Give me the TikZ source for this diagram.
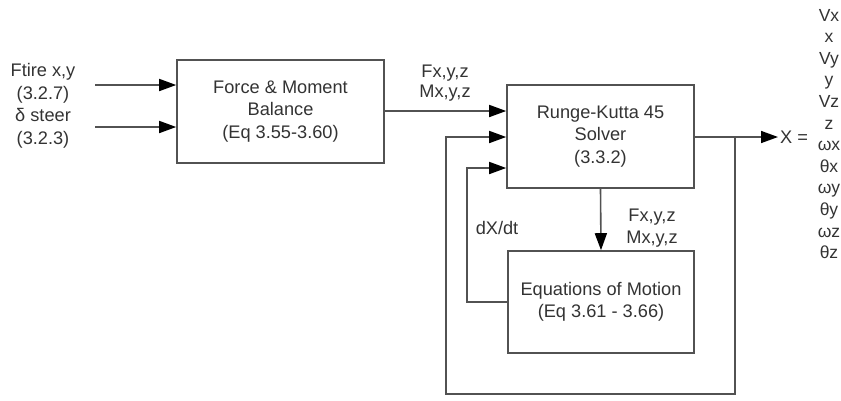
\documentclass[tikz,border=0pt]{standalone}
\usepackage{fontspec}
\setmainfont{Liberation Sans}
\usetikzlibrary{arrows.meta}
\begin{document}
\begin{tikzpicture}[x=1pt,y=-1pt,
  line/.style={draw=black!68, line width=1.6pt},
  arr/.style={line, -{Triangle[length=17pt,width=12pt,color=black]}},
  blk/.style={draw=black!68, line width=1.6pt, rectangle, inner sep=0pt, align=center,
     font=\fontsize{18.2}{22.5}\selectfont, text=black!80},
  lbl/.style={align=center, inner sep=0pt, font=\fontsize{18.2}{21.5}\selectfont, text=black!80}]
\useasboundingbox (0,0) rectangle (841,400);
% blocks
\node[blk, minimum width=207pt, minimum height=103pt] (fm) at (280.5,111.5)
  {Force \& Moment\\Balance\\(Eq 3.55-3.60)};
\node[blk, minimum width=187pt, minimum height=103pt] (rk) at (600.5,136.5)
  {Runge-Kutta 45\\Solver\\(3.3.2)};
\node[blk, minimum width=186pt, minimum height=102pt] (eom) at (601,302)
  {Equations of Motion\\(Eq 3.61 - 3.66)};
% input labels
\node[lbl, font=\fontsize{18.2}{22.5}\selectfont] (inl) at (43,106) {Ftire x,y\\(3.2.7)\\δ steer\\(3.2.3)};
\coordinate (in1) at (95,85);
\coordinate (in2) at (95,127);
\draw[arr] (in1) -- (in1 -| fm.west);
\draw[arr] (in2) -- (in2 -| fm.west);
% fm -> rk
\coordinate (fmo) at (384,111);
\draw[arr] (fmo) -- (fmo -| rk.west);
\node[lbl, font=\fontsize{18.2}{20}\selectfont] (fml) at (445,83) {Fx,y,z\\Mx,y,z};
% rk -> eom
\draw[arr] (rk.south) -- (eom.north);
\node[lbl] (rel) at (652,228) {Fx,y,z\\Mx,y,z};
% output
\coordinate (rko) at (694,137);
\coordinate (tap) at (735,137);
\coordinate (outp) at (778,137);
\draw[arr] (rko) -- (outp);
\node[lbl, anchor=west] (xeq) at (780,137) {X =};
\node[lbl, font=\fontsize{17.5}{21.6}\selectfont] (xlist) at (829,134)
  {Vx\\x\\Vy\\y\\Vz\\z\\ωx\\θx\\ωy\\θy\\ωz\\θz};
% outer loop
\coordinate (ob1) at (735,394);
\coordinate (ob2) at (446,394);
\coordinate (ob3) at (446,137);
\draw[arr] (tap) -- (ob1) -- (ob2) -- (ob3) -- (ob3 -| rk.west);
% inner loop
\coordinate (ib1) at (467,302);
\coordinate (ib2) at (467,168);
\draw[arr] (eom.west) -- (ib1) -- (ib2) -- (ib2 -| rk.west);
\node[lbl] (dxl) at (497,228) {dX/dt};
\end{tikzpicture}
\end{document}
